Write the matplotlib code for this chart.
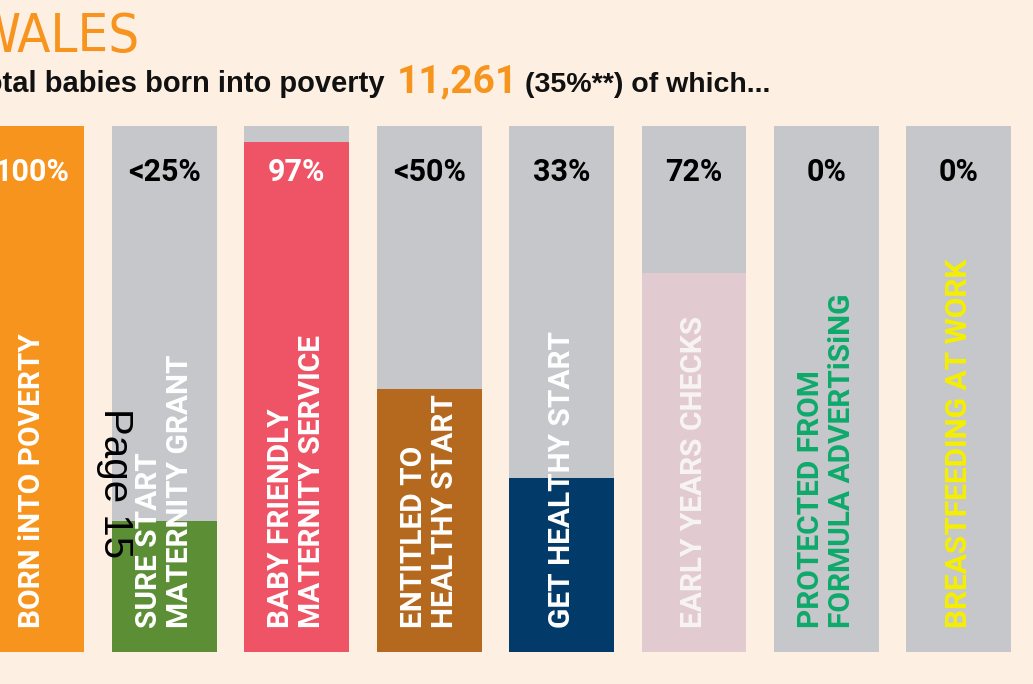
import matplotlib
matplotlib.use("Agg")
import matplotlib.pyplot as plt

categories = ["BORN iNTO POVERTY", "SURE START\nMATERNITY GRANT",
              "BABY FRIENDLY\nMATERNITY SERVICE", "ENTITLED TO\nHEALTHY START",
              "GET HEALTHY START", "EARLY YEARS CHECKS",
              "PROTECTED FROM\nFORMULA ADVERTiSiNG", "BREASTFEEDING AT WORK"]
values = [100, 25, 97, 50, 33, 72, 0, 0]
value_labels = ["100%", "<25%", "97%", "<50%", "33%", "72%", "0%", "0%"]

fill_colors = ["#F7941D", "#5B8E35", "#EF5466", "#B4691F",
               "#023A69", "#E2CBD0", "#C5C7CA", "#C5C7CA"]
label_colors = ["white", "white", "white", "white",
                "white", "#F8F4F6", "#0DA96B", "#F5F000"]
pct_colors = ["white", "black", "white", "black",
              "black", "black", "black", "black"]

bg = "#FDF0E3"
gray = "#C5C7CA"

fig = plt.figure(figsize=(10.33, 6.84), dpi=100, facecolor=bg)
ax = fig.add_axes([0, 1 - 652 / 684, 1, 526 / 684])
ax.set_facecolor(bg)

x = list(range(len(categories)))
ax.bar(x, [100] * len(x), width=0.793, color=gray)
ax.bar(x, values, width=0.793, color=fill_colors)

for i in x:
    ax.text(i, 91.2, value_labels[i], ha="center", va="center",
            fontsize=22, family="Roboto", fontweight="bold", color=pct_colors[i])
    ax.text(i, 4.6, categories[i], rotation=90, ha="center", va="bottom",
            multialignment="left", linespacing=1.12,
            fontsize=21.5, family="Roboto", fontweight="bold", color=label_colors[i])

ax.set_xlim(-32 / 132.4, (1033 - 32) / 132.4)
ax.set_ylim(0, 100)
ax.axis("off")

# heading, cut off at the left edge like the source crop
fig.text(-28 / 1033, 1 - 52 / 684, "WALES", fontsize=39, family="DejaVu Sans",
         fontstretch="condensed", color="#F7941D", ha="left", va="baseline")
fig.text(385 / 1033, 1 - 92 / 684, "Total babies born into poverty", fontsize=21,
         family="Liberation Sans", fontweight="bold", color="#111111",
         ha="right", va="baseline")
fig.text(397 / 1033, 1 - 92 / 684, "11,261", fontsize=28, family="Roboto",
         fontweight="bold", color="#F7941D", ha="left", va="baseline")
fig.text(525 / 1033, 1 - 92 / 684, "(35%**) of which...", fontsize=20.5,
         family="Liberation Sans", fontweight="bold", color="#111111",
         ha="left", va="baseline")

# page marker overlaid on the scan
fig.text(115 / 1033, 1 - 483 / 684, "Page 15", rotation=270, fontsize=29,
         family="Liberation Sans", color="black", ha="center", va="center")

fig.savefig("out.png", dpi=100, facecolor=bg)
